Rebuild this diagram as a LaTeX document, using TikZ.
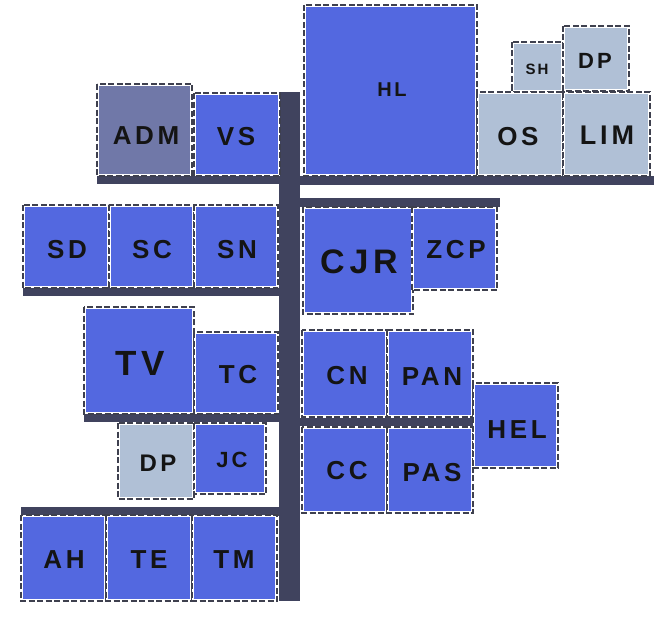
\documentclass[tikz,border=0pt]{standalone}
\usepackage{fontspec}
\setmainfont{Liberation Sans}
\definecolor{biru}{RGB}{83,104,224}
\definecolor{abu}{RGB}{112,120,168}
\definecolor{muda}{RGB}{176,192,214}
\definecolor{gelap}{RGB}{64,67,94}
\definecolor{tepi}{RGB}{62,64,78}
\begin{document}
\begin{tikzpicture}[x=1pt,y=-1pt,
      ruang/.style={draw=tepi,line width=1.9pt,dash pattern=on 6pt off 2.5pt,
        fill=white,path picture={\fill[#1]
          ([shift={(2.4pt,2.4pt)}]path picture bounding box.south west)
          rectangle ([shift={(-2.4pt,-2.4pt)}]path picture bounding box.north east);}},
      lbl/.style={inner sep=0pt,text=black!92,
        font=\addfontfeature{LetterSpace=14}\bfseries\fontsize{#1}{#1}\selectfont},
      lbl/.default=26,
      jalan/.style={fill=gelap}]

    \useasboundingbox (0,0) rectangle (664,626);

    % Lorong utama dan cabang
    \fill[jalan] (279,92) rectangle (300,601);
    \fill[jalan] (97,176) rectangle (280,184);
    \fill[jalan] (300,176) rectangle (654,185);
    \fill[jalan] (300,198) rectangle (500,207);
    \fill[jalan] (23,288) rectangle (280,296);
    \fill[jalan] (84,413) rectangle (280,422);
    \fill[jalan] (300,418) rectangle (475,426);
    \fill[jalan] (21,507) rectangle (280,516);

    % Blok atas
    \draw[ruang=abu] (97,84) rectangle (192,176);
    \draw[ruang=biru] (194,93) rectangle (280,176);
    \draw[ruang=biru] (304,5) rectangle (477,176);
    \draw[ruang=muda] (512,42) rectangle (563,92);
    \draw[ruang=muda] (563,26) rectangle (629,91);
    \draw[ruang=muda] (477,92) rectangle (563,176);
    \draw[ruang=muda] (563,92) rectangle (650,176);

    \node[lbl] (adm) at (146,136) {ADM};
    \node[lbl] (vs) at (236,137) {VS};
    \node[lbl=20] (hl) at (392,90) {HL};
    \node[lbl=15] (sh) at (537,69) {SH};
    \node[lbl=22] (dpa) at (595,61) {DP};
    \node[lbl] (os) at (518,137) {OS};
    \node[lbl=27] (lim) at (607,135) {LIM};

    % Blok tengah
    \foreach \xa/\xb in {23/109, 109/194, 194/278}
      {\draw[ruang=biru] (\xa,205) rectangle (\xb,288);}
    \draw[ruang=biru] (303,207) rectangle (413,314);
    \draw[ruang=biru] (412,207) rectangle (497,290);

    \node[lbl] (sd) at (67,250) {SD};
    \node[lbl] (sc) at (152,250) {SC};
    \node[lbl] (sn) at (237,250) {SN};
    \node[lbl=34] (cjr) at (359,262) {CJR};
    \node[lbl] (zcp) at (456,250) {ZCP};

    \draw[ruang=biru] (84,307) rectangle (194,414);
    \draw[ruang=biru] (194,332) rectangle (278,414);
    \draw[ruang=muda] (118,423) rectangle (194,499);
    \draw[ruang=biru] (194,423) rectangle (266,494);

    \node[lbl=35] (tv) at (140,363) {TV};
    \node[lbl] (tc) at (238,375) {TC};
    \node[lbl=24] (dpb) at (158,463) {DP};
    \node[lbl=22] (jc) at (232,460) {JC};

    \draw[ruang=biru] (302,330) rectangle (387,417);
    \draw[ruang=biru] (387,330) rectangle (473,417);
    \draw[ruang=biru] (302,427) rectangle (387,513);
    \draw[ruang=biru] (387,427) rectangle (473,513);
    \draw[ruang=biru] (473,383) rectangle (558,468);

    \node[lbl] (cn) at (347,376) {CN};
    \node[lbl] (pan) at (432,377) {PAN};
    \node[lbl] (cc) at (347,471) {CC};
    \node[lbl] (pas) at (432,473) {PAS};
    \node[lbl] (hel) at (517,430) {HEL};

    % Blok bawah
    \foreach \xa/\xb in {21/106, 106/192, 192/277}
      {\draw[ruang=biru] (\xa,515) rectangle (\xb,601);}

    \node[lbl] (ah) at (64,560) {AH};
    \node[lbl] (te) at (149,560) {TE};
    \node[lbl] (tm) at (234,560) {TM};
  \end{tikzpicture}
\end{document}
